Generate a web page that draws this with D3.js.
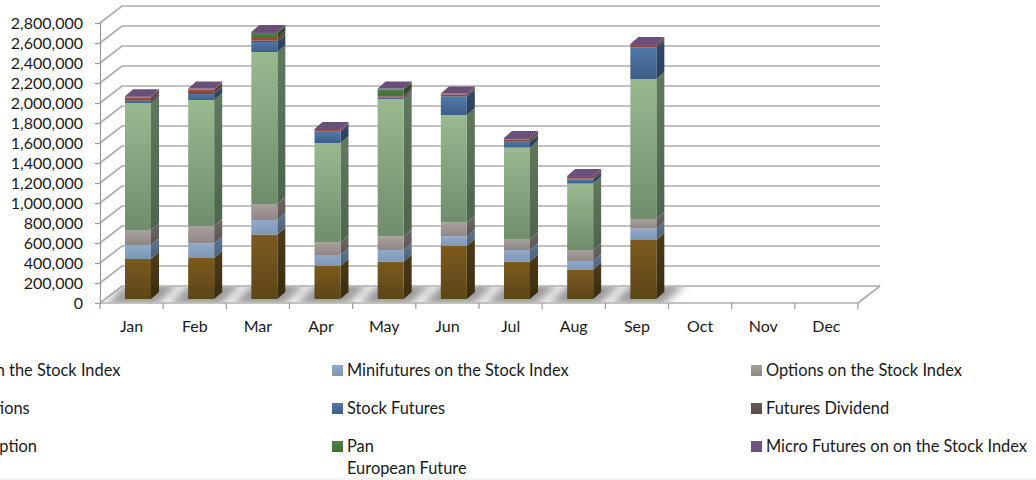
<!DOCTYPE html>
<html>
<head>
<meta charset="utf-8">
<script src="https://cdnjs.cloudflare.com/ajax/libs/d3/7.8.5/d3.min.js"></script>
<style>
  html, body { margin: 0; padding: 0; background: #fff; overflow: hidden; }
  text { font-family: Lato, "Open Sans", sans-serif; fill: #1a1a1a; }
</style>
</head>
<body>
<div id="chart"></div>
<script>
var months = ["Jan","Feb","Mar","Apr","May","Jun","Jul","Aug","Sep","Oct","Nov","Dec"];
var yTicks = [0,200000,400000,600000,800000,1000000,1200000,1400000,1600000,1800000,2000000,2200000,2400000,2600000,2800000];

var futuresIndex = [400000,410000,645000,330000,375000,530000,375000,295000,590000];
var miniFutures  = [140000,145000,145000,110000,115000,95000,115000,85000,115000];
var optionsIndex = [150000,175000,160000,125000,135000,140000,110000,110000,95000];
var stockOptions = [1270000,1260000,1520000,995000,1375000,1075000,915000,665000,1400000];
var stockFutures = [20000,60000,100000,115000,15000,185000,55000,40000,315000];
var futuresDiv   = [8000,10000,15000,5000,8000,5000,8000,8000,5000];
var futuresOpt   = [25000,30000,25000,10000,17000,15000,17000,17000,20000];
var panEuropean  = [5000,5000,50000,0,55000,0,0,0,0];
var microFutures = [10000,10000,10000,10000,10000,10000,15000,10000,10000];

var seriesNames = ["Futures on the Stock Index","Minifutures on the Stock Index","Options on the Stock Index",
  "Stock Options","Stock Futures","Futures Dividend","Futures Option",["Pan","European Future"],"Micro Futures on on the Stock Index"];
var seriesValues = [futuresIndex,miniFutures,optionsIndex,stockOptions,stockFutures,futuresDiv,futuresOpt,panEuropean,microFutures];
var frontTop = ["#7b5b1f","#8fa9c9","#a9a09e","#9ab990","#4f79a9","#665a57","#a04f3c","#4c8342","#735684"];
var frontBot = ["#5c4518","#7f97b7","#8f8785","#6f8d6c","#3d5e87","#584c49","#8c4334","#3f7037","#6d4f7c"];
var sideTop  = ["#4e3b15","#5f7791","#6f6866","#60795e","#2f4b6c","#413835","#6b3429","#2d5428","#523c5e"];
var sideBot  = ["#3a2b10","#4b5f78","#5a5452","#4c654c","#293f5b","#362e2c","#5c2c22","#264721","#483452"];

var width = 1036, height = 480;
var chartLeft = 100, chartRight = 858, chartTop = 23, chartBottom = 303;
var wallDx = 22, wallDy = -17;      // offset front axis -> back wall
var barDx = 8, barDy = -7;          // depth of a bar
var barInsetY = -4;                 // bar front sits this far behind the axis

var svg = d3.select("#chart").append("svg").attr("width", width).attr("height", height);
var defs = svg.append("defs");

function gradient(id, c1, c2) {
  var g = defs.append("linearGradient").attr("id", id).attr("x1", 0).attr("y1", 0).attr("x2", 0).attr("y2", 1);
  g.append("stop").attr("offset", 0).attr("stop-color", c1);
  g.append("stop").attr("offset", 1).attr("stop-color", c2);
}
seriesValues.forEach(function(v, i) {
  gradient("front" + i, frontTop[i], frontBot[i]);
  gradient("side" + i, sideTop[i], sideBot[i]);
});
defs.append("filter").attr("id", "soft").attr("x", "-50%").attr("y", "-50%").attr("width", "200%").attr("height", "200%")
  .append("feGaussianBlur").attr("stdDeviation", 4);
defs.append("filter").attr("id", "aa").attr("x", "-5%").attr("y", "-5%").attr("width", "110%").attr("height", "110%")
  .append("feGaussianBlur").attr("stdDeviation", 0.45);

var x = d3.scaleBand().domain(months).range([chartLeft, chartRight]).paddingInner(0).paddingOuter(0);
var y = d3.scaleLinear().domain([0, 2800000]).range([chartBottom, chartTop]);
var gridColor = "#aeaeae", axisColor = "#9a9a9a";

function poly(pts) { return "M" + pts.map(function(p) { return p.join(","); }).join("L") + "Z"; }

var floorY = y(0);

// grid lines: side wall + back wall
var grid = svg.append("g").attr("fill", "none").attr("stroke", gridColor).attr("stroke-width", 1.7).attr("filter", "url(#aa)");
grid.selectAll("path").data(yTicks).enter().append("path")
  .attr("d", function(d) {
    return "M" + chartLeft + "," + y(d) + "L" + (chartLeft + wallDx) + "," + (y(d) + wallDy) + "L" + (chartRight + wallDx) + "," + (y(d) + wallDy);
  });
grid.append("path").attr("d", "M" + chartRight + "," + floorY + "L" + (chartRight + wallDx) + "," + (floorY + wallDy));
grid.append("path").attr("d", "M" + chartLeft + "," + floorY + "L" + chartRight + "," + floorY);

var barCount = futuresIndex.length;
var barMonths = months.slice(0, barCount);
var barOffset = 25, barWidth = 26;
var xBar = function(m) { return x(m) + barOffset; };

// floor shadow under the bars
var shadowClip = defs.append("clipPath").attr("id", "floorClip");
shadowClip.append("path")
  .attr("d", poly([[chartLeft, floorY - 0.8], [chartRight, floorY - 0.8], [chartRight + wallDx, floorY + wallDy + 0.8], [chartLeft + wallDx, floorY + wallDy + 0.8]]));
svg.append("g").attr("clip-path", "url(#floorClip)")
  .selectAll("path").data(barMonths).enter().append("path")
  .attr("filter", "url(#soft)")
  .attr("fill", "#9a9a9a")
  .attr("d", function(m) {
    var x0 = xBar(m), b = floorY + barInsetY;
    return poly([[x0 - 20, b + 6], [x0 + barWidth + 6, b + 6], [x0 + barWidth + 30, b - 16], [x0 + 2, b - 16]]);
  });

// stacked bars
var stackRows = barMonths.map(function(m, i) {
  var row = { month: m };
  seriesValues.forEach(function(v, s) { row[s] = v[i]; });
  return row;
});
var stacked = d3.stack().keys(seriesValues.map(function(v, s) { return s; }))(stackRows);

var bars = svg.append("g").attr("filter", "url(#aa)");
var layers = bars.selectAll("g").data(stacked).enter().append("g");

layers.selectAll("path.side").data(function(d) { return d; }).enter().append("path")
  .attr("class", "side")
  .attr("fill", function() { return "url(#side" + d3.select(this.parentNode).datum().key + ")"; })
  .attr("d", function(d) {
    var xr = xBar(d.data.month) + barWidth, y0 = y(d[0]) + barInsetY, y1 = y(d[1]) + barInsetY;
    return poly([[xr, y0], [xr + barDx, y0 + barDy], [xr + barDx, y1 + barDy], [xr, y1]]);
  });
layers.selectAll("rect").data(function(d) { return d; }).enter().append("rect")
  .attr("fill", function() { return "url(#front" + d3.select(this.parentNode).datum().key + ")"; })
  .attr("x", function(d) { return xBar(d.data.month); })
  .attr("width", barWidth)
  .attr("y", function(d) { return y(d[1]) + barInsetY; })
  .attr("height", function(d) { return y(d[0]) - y(d[1]); });

// top cap of each column
bars.append("g").selectAll("path").data(stacked[stacked.length - 1]).enter().append("path")
  .attr("fill", "#6b4f78")
  .attr("d", function(d) {
    var x0 = xBar(d.data.month), t = y(d[1]) + barInsetY;
    return poly([[x0, t], [x0 + barWidth, t], [x0 + barWidth + barDx, t + barDy], [x0 + barDx, t + barDy]]);
  });

// y axis
var yAxis = svg.append("g").attr("transform", "translate(" + chartLeft + ",0)")
  .call(d3.axisLeft(y).tickValues(yTicks).tickSize(5).tickPadding(12).tickFormat(d3.format(",")));
yAxis.selectAll("path,line").attr("stroke", axisColor).attr("stroke-width", 1.2);
yAxis.selectAll("text").style("font-size", "16px").style("font-family", "Lato").attr("fill", "#1a1a1a");

// x axis, ticks between the categories
var xAxis = svg.append("g").attr("transform", "translate(0," + floorY + ")")
  .call(d3.axisBottom(x).tickSize(0).tickPadding(18));
xAxis.select("path").remove();
xAxis.selectAll("text").style("font-size", "16px").style("font-family", "Lato").attr("fill", "#1a1a1a");
xAxis.selectAll("line.sep").data(months.concat(["end"])).enter().append("line")
  .attr("class", "sep")
  .attr("x1", function(d) { return d === "end" ? chartRight : x(d); })
  .attr("x2", function(d) { return d === "end" ? chartRight : x(d); })
  .attr("y1", 0).attr("y2", 6)
  .attr("stroke", axisColor).attr("stroke-width", 1.2);

// legend, three columns filled row by row, first column runs off the page
var legendX = d3.scaleOrdinal().domain([0, 1, 2]).range([-87, 332, 751]);
var legendY = d3.scaleOrdinal().domain([0, 1, 2]).range([370, 408, 446]);
var legend = svg.append("g").selectAll("g").data(seriesNames).enter().append("g")
  .attr("transform", function(d, i) { return "translate(" + legendX(i % 3) + "," + legendY(Math.floor(i / 3)) + ")"; });
legend.append("rect").attr("x", 0).attr("y", -5).attr("width", 11).attr("height", 11)
  .attr("fill", function(d, i) { return "url(#front" + i + ")"; });
var legendText = legend.append("text").attr("x", 15).attr("y", 5.5).style("font-size", "16.4px");
legendText.selectAll("tspan").data(function(d) { return [].concat(d); }).enter().append("tspan")
  .attr("x", 15).attr("dy", function(d, i) { return i ? 22 : 0; }).text(function(d) { return d; });

// faint rule along the bottom edge
svg.append("line").attr("x1", 0).attr("x2", width).attr("y1", 479).attr("y2", 479).attr("stroke", "#e8e8e8");
</script>
</body>
</html>
